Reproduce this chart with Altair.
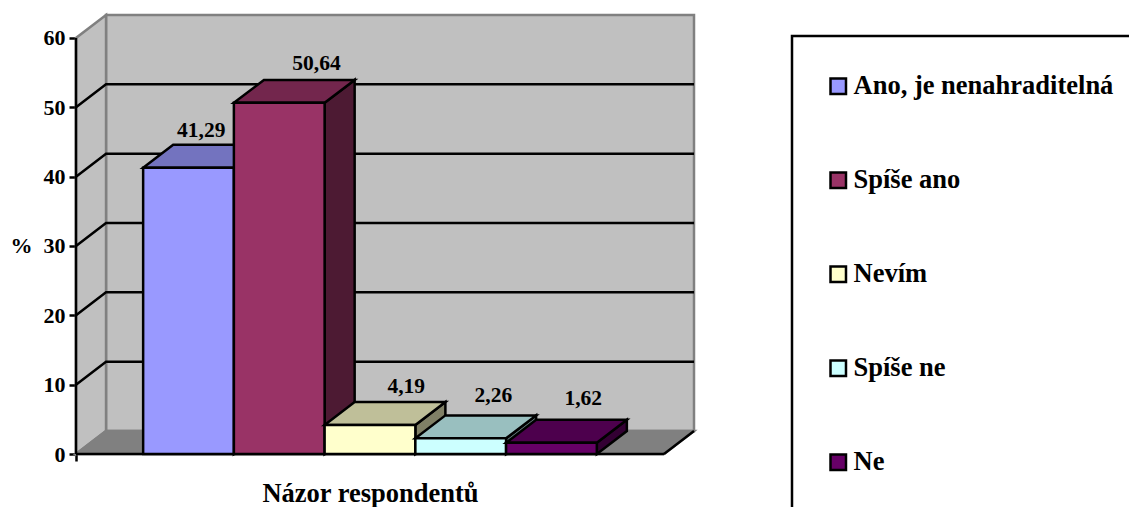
import altair as alt
import pandas as pd

# ---- chart data ----
categories = ["Ano, je nenahraditelná", "Spíše ano", "Nevím", "Spíše ne", "Ne"]
values = [41.29, 50.64, 4.19, 2.26, 1.62]
value_labels = ["41,29", "50,64", "4,19", "2,26", "1,62"]
y_ticks = [0, 10, 20, 30, 40, 50, 60]

# ---- colours of the three visible faces of every column ----
front_colors = ["#9999FF", "#993366", "#FFFFCC", "#CCFFFF", "#660066"]
top_colors = ["#7373BF", "#73264D", "#BFBF99", "#99BFBF", "#4D004D"]
side_colors = ["#4D4D80", "#4D1A33", "#808066", "#668080", "#330033"]
WALL = "#C0C0C0"
FLOOR = "#808080"
EDGE = "#808080"
FONT = "Liberation Serif"

# ---- oblique projection, in axis units (1 x unit = one column) ----
GAP = 0.74
DX = 0.331
DY = 3.31
FLOOR_W = 2 * GAP + len(values)
X_MAX = FLOOR_W + DX
Y_MAX = 60 + DY
LW = 2.5

# label placement relative to the column's front-centre top (axis units)
label_shift_x = [0.14, 0.41, 0.40, 0.36, 0.35]
label_lift_y = [5.35, 5.55, 5.45, 6.15, 6.25]

x_scale = alt.Scale(domain=[0, X_MAX], nice=False, zero=False)
y_scale = alt.Scale(domain=[0, Y_MAX], nice=False, zero=False)

x_axis = alt.Axis(
    values=[0], labels=False, domain=False, grid=False,
    tickColor="black", tickWidth=LW, tickSize=7,
    title="Názor respondentů", titleFont=FONT, titleFontSize=26.5,
    titleFontWeight="bold", titleColor="black",
    titleX=294, titleY=47, titleAnchor="middle", titleAlign="center",
    titleBaseline="alphabetic",
)
y_axis = alt.Axis(
    values=y_ticks, domain=False, grid=False,
    tickColor="black", tickWidth=LW, tickSize=7,
    labelFont=FONT, labelFontSize=22, labelFontWeight="bold",
    labelColor="black", labelPadding=4,
    title="%", titleFont=FONT, titleFontSize=22, titleFontWeight="bold",
    titleColor="black", titleAngle=0, titleX=-55, titleY=230,
    titleAlign="center", titleBaseline="middle",
)
X = alt.X("x:Q", scale=x_scale, axis=x_axis)
Y = alt.Y("y:Q", scale=y_scale, axis=y_axis)


def area(rows, fill, stroke="black", width=LW):
    df = pd.DataFrame(rows, columns=["x", "y", "y2"])
    return alt.Chart(df).mark_area(
        fill=fill, stroke=stroke, strokeWidth=width, opacity=1,
        orient="vertical", interpolate="linear", strokeJoin="miter",
    ).encode(x=X, y=Y, y2="y2:Q")


def line(rows, color="black", width=LW):
    df = pd.DataFrame(rows, columns=["x", "y"])
    return alt.Chart(df).mark_line(
        color=color, strokeWidth=width, interpolate="linear", strokeCap="butt"
    ).encode(x=X, y=Y)


back = area([[DX, Y_MAX, DY], [X_MAX, Y_MAX, DY]], WALL, EDGE)
side_wall = area([[0, 0, 60], [DX, DY, Y_MAX]], WALL, EDGE)
floor = area([[0, 0, 0], [DX, DY, 0], [FLOOR_W, DY, 0], [X_MAX, DY, DY]], FLOOR, EDGE)

layers = [back, side_wall, floor]

for tick in y_ticks[1:-1]:
    layers.append(line([[0, tick], [DX, tick + DY], [X_MAX, tick + DY]]))

layers.append(line([[FLOOR_W, 0], [X_MAX, DY]]))
layers.append(line([[0, 0], [FLOOR_W, 0]]))

color_scale = alt.Scale(domain=categories, range=front_colors)
legend = alt.Legend(
    orient="none", legendX=716, legendY=21, title=None,
    symbolType="square", symbolSize=240, symbolStrokeColor="black",
    symbolStrokeWidth=LW, symbolOpacity=1, symbolOffset=-4,
    labelFont=FONT, labelFontSize=26.5, labelFontWeight="bold", labelColor="black",
    labelLimit=400, labelOffset=2, rowPadding=67, padding=37,
    strokeColor="black",
)

for i, (cat, v) in enumerate(zip(categories, values)):
    a = GAP + i
    b = a + 1
    layers.append(area([[b, 0, v], [b + DX, DY, v + DY]], side_colors[i]))
    layers.append(area([[a, v, v], [a + DX, v + DY, v], [b, v + DY, v],
                        [b + DX, v + DY, v + DY]], top_colors[i]))
    front_df = pd.DataFrame({"x": [a], "x2": [b], "y": [v], "y2": [0], "cat": [cat]})
    layers.append(alt.Chart(front_df).mark_rect(
        stroke="black", strokeWidth=LW, opacity=1
    ).encode(
        x=X, x2="x2:Q", y=Y, y2="y2:Q",
        color=alt.Color("cat:N", scale=color_scale, legend=legend),
    ))

labels_df = pd.DataFrame({
    "x": [GAP + i + 0.5 + s for i, s in enumerate(label_shift_x)],
    "y": [v + l for v, l in zip(values, label_lift_y)],
    "t": value_labels,
})
layers.append(alt.Chart(labels_df).mark_text(
    font=FONT, fontSize=21.5, fontWeight="bold", color="black",
    align="center", baseline="middle",
).encode(x=X, y=Y, text="t:N"))

layers.append(line([[0, 0], [0, 60]]))

chart = alt.layer(*layers).properties(
    width=618, height=439,
    autosize=alt.AutoSizeParams(type="none"),
    padding={"left": 68, "top": 7, "right": 435, "bottom": 53},
    background="white",
).configure_view(stroke=None).configure_legend(strokeWidth=LW)

chart.save("out.html", embed_options={"renderer": "svg", "actions": False})
